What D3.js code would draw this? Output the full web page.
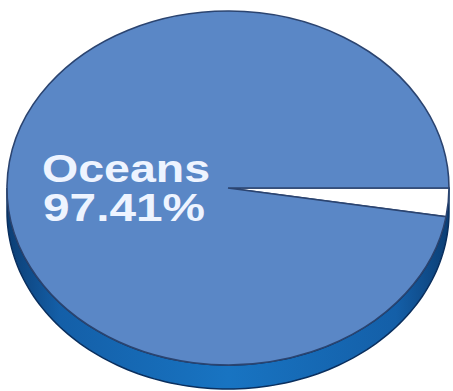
<!DOCTYPE html>
<html><head><meta charset="utf-8">
<script src="https://cdn.jsdelivr.net/npm/d3@7"></script>
<style>html,body{margin:0;padding:0;background:#fff;}svg{display:block;}</style>
</head><body>
<script>
const categories = ["Other", "Oceans"];
const values = [2.59, 97.41];
const colors = ["#ffffff", "#5a87c6"];
const labelLines = ["Oceans", "97.41%"];

const W = 453, H = 391;
const cx = 228, cy = 188, rx = 221, ry = 177, depth = 24;
const k = ry / rx;

const svg = d3.select("body").append("svg").attr("width", W).attr("height", H);
const defs = svg.append("defs");
const g = defs.append("linearGradient").attr("id", "side").attr("x1", "0").attr("x2", "1").attr("y1", "0").attr("y2", "0");
g.append("stop").attr("offset", "0").attr("stop-color", "#0c3e74");
g.append("stop").attr("offset", "0.12").attr("stop-color", "#145fa8");
g.append("stop").attr("offset", "0.5").attr("stop-color", "#1874c2");
g.append("stop").attr("offset", "0.88").attr("stop-color", "#145fa8");
g.append("stop").attr("offset", "1").attr("stop-color", "#0c3e74");

// side wall (lower half of ellipse extruded)
const N = 120;
let pts = [];
for (let i = 0; i <= N; i++) { const t = Math.PI * i / N; pts.push([cx + rx * Math.cos(t), cy + ry * Math.sin(t)]); }
for (let i = N; i >= 0; i--) { const t = Math.PI * i / N; pts.push([cx + rx * Math.cos(t), cy + depth + ry * Math.sin(t)]); }
svg.append("path").attr("d", d3.line()(pts) + "Z")
  .attr("fill", "url(#side)").attr("stroke", "#0a2f5e").attr("stroke-width", 1.5);

// top face via d3.pie / d3.arc, squashed vertically
const pie = d3.pie().sort(null).startAngle(Math.PI / 2).endAngle(Math.PI / 2 + 2 * Math.PI);
const arcs = pie(values);
const arc = d3.arc().innerRadius(0).outerRadius(rx);
const face = svg.append("g").attr("transform", `translate(${cx},${cy}) scale(1,${k})`);
face.selectAll("path").data(arcs).join("path")
  .attr("d", arc)
  .attr("fill", (d, i) => colors[i])
  .attr("stroke", "#2b4470").attr("stroke-width", 1.6)
  .attr("vector-effect", "non-scaling-stroke");

// label
const lbl = svg.append("g").attr("font-family", "'Liberation Sans', Arial, sans-serif")
  .attr("font-weight", "bold").attr("font-size", 38).attr("fill", "#eef4ff");
lbl.append("text").attr("x", 42).attr("y", 182).attr("textLength", 168)
  .attr("lengthAdjust", "spacingAndGlyphs").text(labelLines[0]);
lbl.append("text").attr("x", 43).attr("y", 221).attr("textLength", 162)
  .attr("lengthAdjust", "spacingAndGlyphs").text(labelLines[1]);
</script>
</body></html>
